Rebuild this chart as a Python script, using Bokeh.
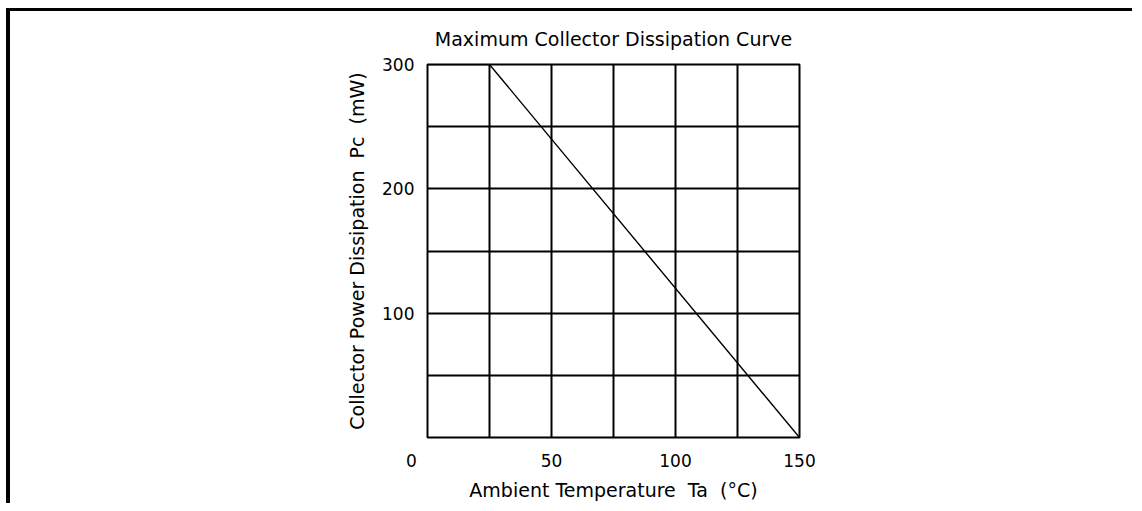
from bokeh.plotting import figure
from bokeh.models import Range1d, FixedTicker
from bokeh.embed import file_html
from bokeh.resources import INLINE

# Data: maximum collector dissipation derating curve
temps = [0, 25, 150]          # Ambient temperature Ta (°C)
power = [300, 300, 0]         # Collector power dissipation Pc (mW)

x_tick_values = [0, 50, 100, 150]
x_tick_labels = ["0", "50", "100", "150"]
y_tick_values = [100, 200, 300]
x_grid_values = [0, 25, 50, 75, 100, 125, 150]
y_grid_values = [0, 50, 100, 150, 200, 250, 300]

title_text = "Maximum Collector Dissipation Curve"
x_title = "Ambient Temperature\u00a0 Ta\u00a0 (°C)"
y_title = "Collector Power Dissipation\u00a0 Pc\u00a0 (mW)"

FONT = "DejaVu Sans"
NB = "\u00a0"

p = figure(width=1126, height=495,
           x_range=Range1d(0, 150), y_range=Range1d(0, 300),
           output_backend="svg", toolbar_location=None,
           min_border_left=417, min_border_right=337,
           min_border_top=53, min_border_bottom=69,
           title=title_text)

p.styles = {"border-left": "4px solid black", "border-top": "3px solid black",
            "margin-left": "6px", "margin-top": "8px"}

p.background_fill_color = "white"
p.border_fill_color = "white"
p.outline_line_color = "black"
p.outline_line_width = 2
p.outline_line_alpha = 1

p.title.text_font = FONT
p.title.text_font_size = "19px"
p.title.text_font_style = "normal"
p.title.text_color = "black"
p.title.align = "center"
p.title.standoff = 29

# grid
p.xgrid.ticker = FixedTicker(ticks=x_grid_values)
p.ygrid.ticker = FixedTicker(ticks=y_grid_values)
for g in (p.xgrid, p.ygrid):
    g.grid_line_color = "black"
    g.grid_line_width = 2
    g.grid_line_alpha = 1

# axes
p.xaxis.ticker = FixedTicker(ticks=x_tick_values)
p.yaxis.ticker = FixedTicker(ticks=y_tick_values)
overrides = {v: t for v, t in zip(x_tick_values, x_tick_labels)}
overrides[0] = x_tick_labels[0] + NB * 6   # corner "0" sits left of the frame edge
p.xaxis.major_label_overrides = overrides
for ax in (p.xaxis, p.yaxis):
    ax.axis_line_color = None
    ax.major_tick_line_color = None
    ax.minor_tick_line_color = None
    ax.major_label_text_font = FONT
    ax.major_label_text_font_size = "17px"
    ax.major_label_text_color = "black"
    ax.axis_label_text_font = FONT
    ax.axis_label_text_font_style = "normal"
    ax.axis_label_text_color = "black"
p.xaxis.major_label_standoff = 7
p.yaxis.major_label_standoff = 7

p.xaxis.axis_label = x_title
p.xaxis.axis_label_text_font_size = "19px"
p.xaxis.axis_label_standoff = 5

p.yaxis.axis_label = y_title
p.yaxis.axis_label_text_font_size = "19px"
p.yaxis.axis_label_standoff = 11

# data curve
p.line(temps, power, line_color="black", line_width=1.4)

open("out.html", "w").write(file_html(p, INLINE))
